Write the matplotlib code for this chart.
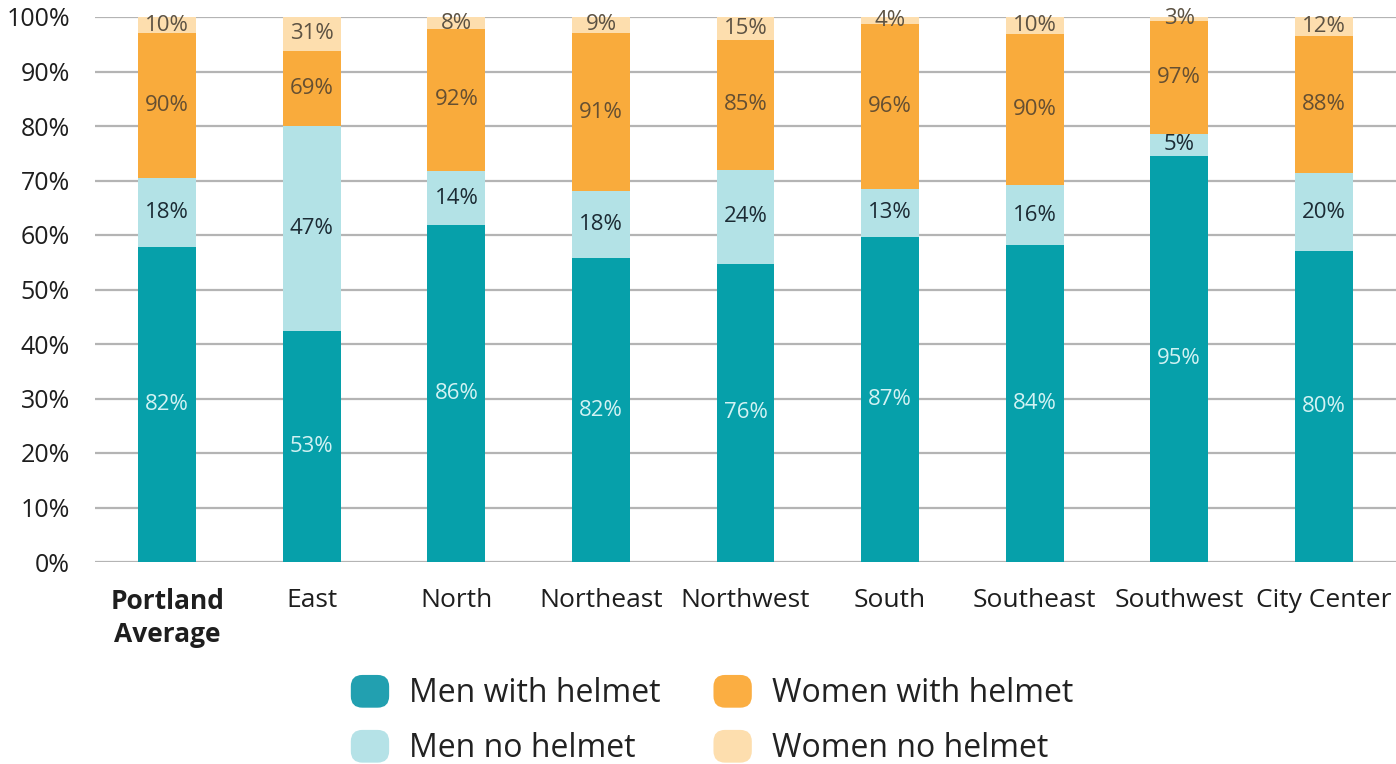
import matplotlib

matplotlib.use("Agg")
import matplotlib.pyplot as plt
from matplotlib.legend_handler import HandlerPatch
from matplotlib.patches import FancyBboxPatch, Patch
from matplotlib.ticker import FuncFormatter, MultipleLocator

plt.rcParams["font.family"] = ["Open Sans", "DejaVu Sans"]

regions = [
    "Portland\nAverage", "East", "North", "Northeast", "Northwest",
    "South", "Southeast", "Southwest", "City Center",
]
# share of counted riders who were men, per region (percent of bar)
men_share = [70.5, 80.0, 71.8, 68.0, 72.0, 68.5, 69.2, 78.5, 71.3]
# helmet use within each gender (percent)
men_helmet = [82, 53, 86, 82, 76, 87, 84, 95, 80]
men_no_helmet = [18, 47, 14, 18, 24, 13, 16, 5, 20]
women_helmet = [90, 69, 92, 91, 85, 96, 90, 97, 88]
women_no_helmet = [10, 31, 8, 9, 15, 4, 10, 3, 12]

series_names = ["Men with helmet", "Men no helmet", "Women with helmet", "Women no helmet"]
bar_colors = ["#06a0aa", "#b3e2e6", "#f9ab3c", "#fddeae"]
legend_colors = ["#22a0b0", "#b5e2e7", "#fbae42", "#fddeae"]
label_colors = ["#d2f2f3", "#1c2b34", "#654f32", "#5c5243"]


class RoundedHandler(HandlerPatch):
    def create_artists(self, legend, orig_handle, xdescent, ydescent,
                       width, height, fontsize, trans):
        pad = 0.22 * min(width, height)
        p = FancyBboxPatch(
            (-xdescent + pad, -ydescent + pad), width - 2 * pad, height - 2 * pad,
            boxstyle=f"round,pad={pad},rounding_size={pad * 1.6}",
            facecolor=orig_handle.get_facecolor(), edgecolor="none",
            transform=trans,
        )
        return [p]


fig = plt.figure(figsize=(13.96, 7.64), dpi=100)
ax = fig.add_axes([95 / 1396, 202 / 764, 1301 / 1396, 545 / 764])

x = list(range(len(regions)))
series = [
    [s * p / 100 for s, p in zip(men_share, men_helmet)],
    [s * p / 100 for s, p in zip(men_share, men_no_helmet)],
    [(100 - s) * p / 100 for s, p in zip(men_share, women_helmet)],
    [(100 - s) * p / 100 for s, p in zip(men_share, women_no_helmet)],
]
labels = [men_helmet, men_no_helmet, women_helmet, women_no_helmet]

bottom = [0.0] * len(regions)
for vals, lab, color, tcolor in zip(series, labels, bar_colors, label_colors):
    ax.bar(x, vals, bottom=bottom, width=0.4, color=color, zorder=3)
    for xi, b, v, t in zip(x, bottom, vals, lab):
        ax.text(xi, b + v / 2, f"{t}%", ha="center", va="center",
                fontsize=16, color=tcolor, zorder=4)
    bottom = [b + v for b, v in zip(bottom, vals)]

ax.set_xlim(-0.5, len(regions) - 0.5)
ax.set_ylim(0, 100)
ax.yaxis.set_major_locator(MultipleLocator(10))
ax.yaxis.set_major_formatter(FuncFormatter(lambda v, _: f"{v:.0f}%"))
ax.grid(axis="y", color="#b4b4b4", linewidth=1.6, zorder=0)
ax.set_axisbelow(True)
for spine in ax.spines.values():
    spine.set_visible(False)

ax.set_xticks(x)
ax.set_xticklabels(regions, fontsize=19, color="#1e1e1e", linespacing=1.25)
ax.get_xticklabels()[0].set_fontweight("bold")
ax.tick_params(axis="x", length=0, pad=19)
ax.tick_params(axis="y", length=0, pad=18, labelsize=18, labelcolor="#1e1e1e")

handles = [Patch(facecolor=c) for c in legend_colors]
fig.legend(
    handles, series_names,
    ncol=2, loc="center", bbox_to_anchor=(712 / 1396, 44 / 764),
    frameon=False, fontsize=23, handlelength=1.2, handleheight=1.2,
    handletextpad=0.63, columnspacing=1.65, labelspacing=0.62,
    handler_map={Patch: RoundedHandler()}, labelcolor="#222222",
)

fig.savefig("out.png", dpi=100)
